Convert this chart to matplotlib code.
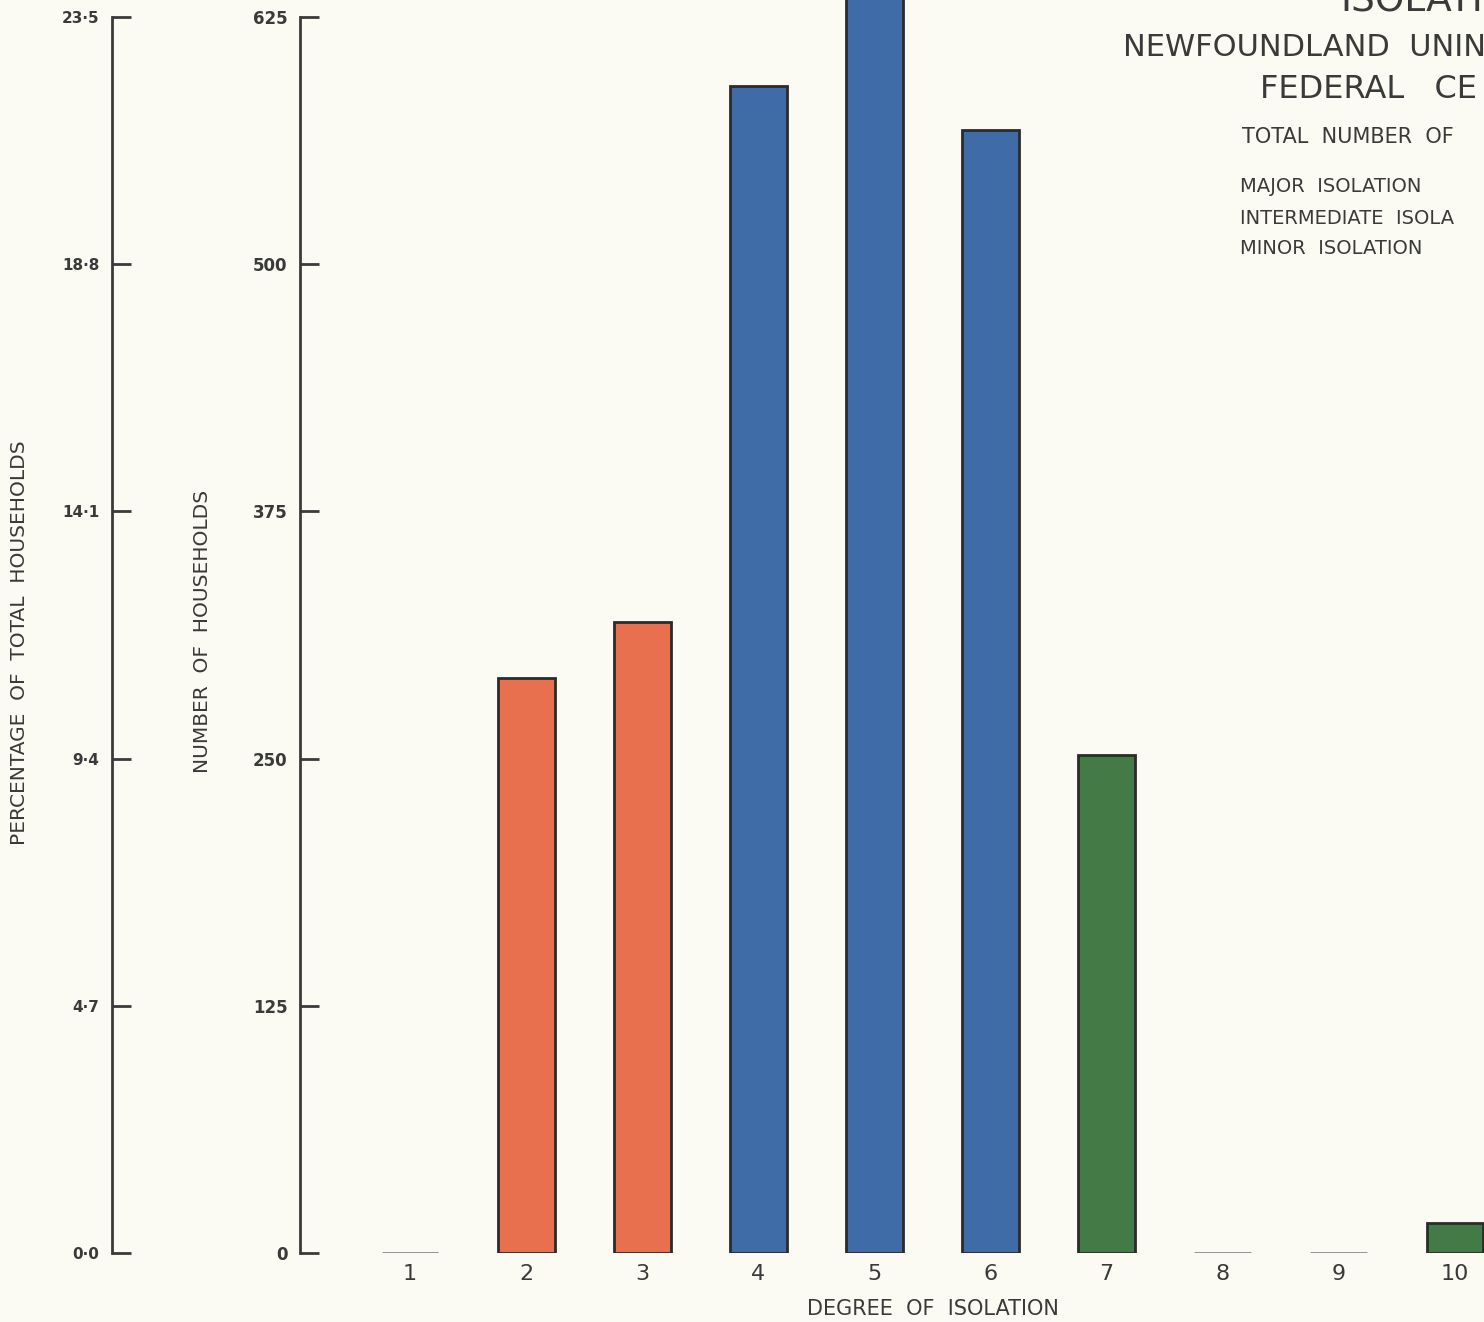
import matplotlib
matplotlib.use("Agg")
import matplotlib.pyplot as plt

# ---- data ----
degrees = [1, 2, 3, 4, 5, 6, 7, 8, 9, 10]
degree_labels = ["1", "2", "3", "4", "5", "6", "7", "8", "9", "10"]
households = [0, 291, 319, 590, 680, 568, 252, 0, 0, 15]
isolation_class = ["major", "major", "major", "intermediate", "intermediate",
                   "intermediate", "minor", "minor", "minor", "minor"]
count_ticks = [0, 125, 250, 375, 500, 625]
count_tick_labels = ["0", "125", "250", "375", "500", "625"]
pct_ticks = [0.0, 4.7, 9.4, 14.1, 18.8, 23.5]
pct_tick_labels = ["0·0", "4·7", "9·4", "14·1", "18·8", "23·5"]
# title block as visible in the (cropped) reference
title_lines = ["ISOLATI", "NEWFOUNDLAND  UNIN", "FEDERAL   CE"]
subtitle = "TOTAL  NUMBER  OF"
legend_labels = ["MAJOR  ISOLATION", "INTERMEDIATE  ISOLA", "MINOR  ISOLATION"]
x_title = "DEGREE  OF  ISOLATION"
y_title_count = "NUMBER  OF  HOUSEHOLDS"
y_title_pct = "PERCENTAGE  OF  TOTAL  HOUSEHOLDS"

class_colors = {"major": "#E8704E", "intermediate": "#3F6BA7", "minor": "#437A45"}
BG = "#FBFBF4"
INK = "#3a3a3a"

W, H = 1484, 1322
fig = plt.figure(figsize=(W / 100, H / 100), dpi=100, facecolor=BG)

def fx(px):
    return px / W

def fy(py):
    return 1 - py / H

y0_px, ytop_px = 1253, 17
axes_bottom = fy(y0_px)
axes_height = 1 - axes_bottom
count_top = 625 * (y0_px - 0) / (y0_px - ytop_px)
pct_top = 23.5 * (y0_px - 0) / (y0_px - ytop_px)

# main axes (count axis on its left spine)
ax_left_px = 300
ax = fig.add_axes([fx(ax_left_px), axes_bottom, 1 - fx(ax_left_px), axes_height])
ax.set_facecolor("none")
px_per_unit = (1455 - 410) / 9
xmin = 1 - (410 - ax_left_px) / px_per_unit
xmax = 10 + (W - 1455) / px_per_unit
ax.set_xlim(xmin, xmax)
ax.set_ylim(0, count_top)

colors = [class_colors[c] for c in isolation_class]
edges = ["#8a8a8a" if v == 0 else "#2b2b2b" for v in households]
ax.bar(degrees, households, width=0.49, color=colors, edgecolor=edges, linewidth=2.0)

for s in ["top", "right", "bottom"]:
    ax.spines[s].set_visible(False)
ax.spines["left"].set_bounds(0, 625)
ax.spines["left"].set_linewidth(2)
ax.spines["left"].set_color(INK)
ax.set_yticks(count_ticks)
ax.set_yticklabels(count_tick_labels, fontsize=12, fontweight="bold", color=INK)
ax.tick_params(axis="y", direction="in", length=14, width=2, color=INK, pad=9)
ax.set_xticks(degrees)
ax.set_xticklabels(degree_labels, fontsize=16, color=INK)
ax.tick_params(axis="x", length=0, pad=8)

# percentage axis
pax_px = 112
pax = fig.add_axes([fx(pax_px), axes_bottom, 0.01, axes_height])
pax.set_facecolor("none")
pax.set_ylim(0, pct_top)
pax.set_xticks([])
for s in ["top", "right", "bottom"]:
    pax.spines[s].set_visible(False)
pax.spines["left"].set_bounds(0, 23.5)
pax.spines["left"].set_linewidth(2)
pax.spines["left"].set_color(INK)
pax.set_yticks(pct_ticks)
pax.set_yticklabels(pct_tick_labels, fontsize=11, fontweight="bold", color=INK)
pax.tick_params(axis="y", direction="in", length=14, width=2, color=INK, pad=9)

# axis titles
fig.text(fx(933), fy(1309), x_title, ha="center", va="center", fontsize=15, color=INK)
fig.text(fx(20), fy(643), y_title_pct, rotation=90,
         ha="center", va="center", fontsize=14.5, color=INK)
fig.text(fx(203), fy(631), y_title_count, rotation=90,
         ha="center", va="center", fontsize=14.5, color=INK)

# title block
fig.text(fx(1340), fy(11), title_lines[0], ha="left", va="baseline", fontsize=27, color=INK)
fig.text(fx(1123), fy(47), title_lines[1], ha="left", va="center", fontsize=22, color=INK)
fig.text(fx(1260), fy(90), title_lines[2], ha="left", va="center", fontsize=23, color=INK)
fig.text(fx(1242), fy(137), subtitle, ha="left", va="center", fontsize=15, color=INK)
for i, lab in enumerate(legend_labels):
    fig.text(fx(1240), fy(187 + 31 * i), lab, ha="left", va="center",
             fontsize=14, color=INK)

fig.savefig("out.png", dpi=100, facecolor=BG)
